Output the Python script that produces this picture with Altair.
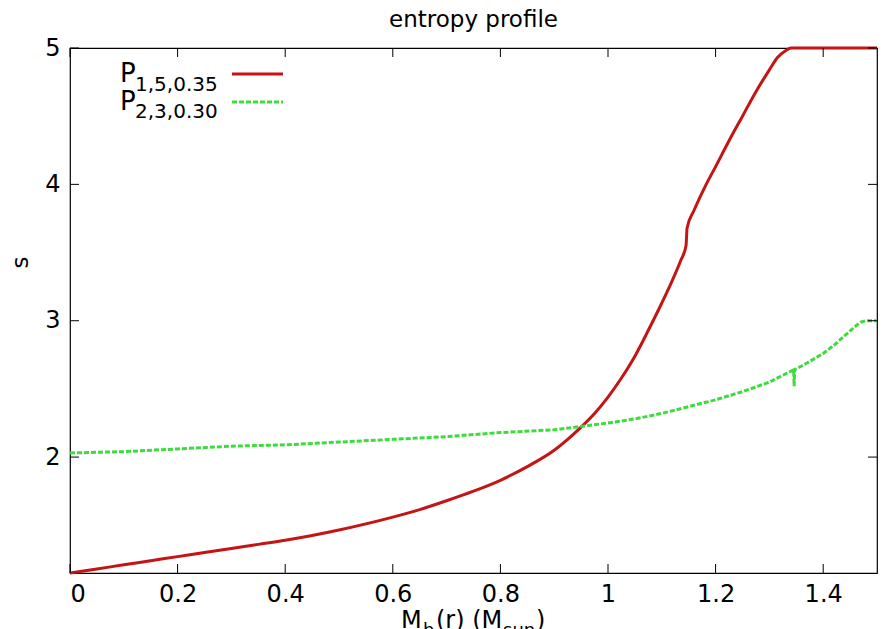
import altair as alt
import pandas as pd

# Entropy profiles s(M_b) for two progenitor models
red_mass = [0.0, 0.05, 0.1, 0.15, 0.2, 0.25, 0.3, 0.35, 0.4, 0.45, 0.5, 0.55, 0.6,
            0.65, 0.7, 0.75, 0.8, 0.85, 0.9, 0.925, 0.95, 0.975, 1.0, 1.025, 1.05,
            1.075, 1.1, 1.12, 1.135, 1.145, 1.147, 1.16, 1.18, 1.2, 1.225, 1.25,
            1.275, 1.3, 1.315, 1.33, 1.34, 1.5]
red_s = [1.15, 1.18, 1.21, 1.24, 1.27, 1.30, 1.33, 1.36, 1.39, 1.425, 1.465, 1.51, 1.56,
         1.615, 1.68, 1.75, 1.83, 1.93, 2.05, 2.13, 2.22, 2.32, 2.44, 2.58, 2.74,
         2.93, 3.13, 3.30, 3.44, 3.55, 3.68, 3.81, 3.98, 4.13, 4.32, 4.50,
         4.68, 4.84, 4.93, 4.98, 5.0, 5.0]

green_mass = [0.0, 0.1, 0.2, 0.3, 0.4, 0.5, 0.6, 0.7, 0.8, 0.9, 1.0, 1.05, 1.1, 1.15,
              1.2, 1.25, 1.3, 1.32, 1.345, 1.346, 1.347, 1.37, 1.4, 1.42, 1.44, 1.46,
              1.47, 1.48, 1.5]
green_s = [2.03, 2.04, 2.06, 2.08, 2.09, 2.11, 2.13, 2.15, 2.18, 2.20, 2.25, 2.28, 2.32, 2.37,
           2.42, 2.48, 2.55, 2.59, 2.64, 2.52, 2.64, 2.69, 2.76, 2.82, 2.89, 2.96,
           2.99, 3.0, 3.0]

x_ticks = [0, 0.2, 0.4, 0.6, 0.8, 1, 1.2, 1.4]
y_ticks = [2, 3, 4, 5]

W, H = 807, 525
TICK = 9
FONT = "DejaVu Sans"
RED = "#c41414"
GREEN = "#3ddc3d"

x_scale = alt.Scale(domain=[0, 1.5], nice=False, zero=False)
y_scale = alt.Scale(domain=[1.15, 5], nice=False, zero=False)

x_axis = alt.Axis(values=x_ticks, title=None, domain=False, ticks=False, grid=False,
                  labelFont=FONT, labelFontSize=24, labelPadding=9, labelColor="black",
                  format="~g")
y_axis = alt.Axis(values=y_ticks, title=None, domain=False, ticks=False, grid=False,
                  labelFont=FONT, labelFontSize=24, labelPadding=10, labelColor="black",
                  format="~g")


def X(field):
    return alt.X(f"{field}:Q", scale=x_scale, axis=x_axis)


def Y(field):
    return alt.Y(f"{field}:Q", scale=y_scale, axis=y_axis)


red_df = pd.DataFrame({"x": red_mass, "y": red_s})
green_df = pd.DataFrame({"x": green_mass, "y": green_s})
xt_df = pd.DataFrame({"x": x_ticks})
yt_df = pd.DataFrame({"y": y_ticks})

red_line = alt.Chart(red_df).mark_line(
    color=RED, strokeWidth=3, interpolate="monotone", clip=False).encode(x=X("x"), y=Y("y"))
green_line = alt.Chart(green_df).mark_line(
    color=GREEN, strokeWidth=3, strokeDash=[5, 2], clip=False).encode(x=X("x"), y=Y("y"))

# inward ticks on all four sides
tick_bottom = alt.Chart(xt_df).mark_rule(color="black", strokeWidth=1).encode(
    x=X("x"), y=alt.value(H), y2=alt.value(H - TICK))
tick_top = alt.Chart(xt_df).mark_rule(color="black", strokeWidth=1).encode(
    x=X("x"), y=alt.value(0), y2=alt.value(TICK))
tick_left = alt.Chart(yt_df).mark_rule(color="black", strokeWidth=1).encode(
    y=Y("y"), x=alt.value(0), x2=alt.value(TICK))
tick_right = alt.Chart(yt_df).mark_rule(color="black", strokeWidth=1).encode(
    y=Y("y"), x=alt.value(W), x2=alt.value(W - TICK))


def label(text, x, y, size, angle=0, align="left"):
    return alt.Chart(pd.DataFrame({"t": [text]})).mark_text(
        font=FONT, fontSize=size, align=align, baseline="alphabetic", angle=angle,
        color="black").encode(text="t:N", x=alt.value(x), y=alt.value(y))


# legend: model names with subscripts and line samples
legend = [
    label("P", 50, 34, 26),
    label("1,5,0.35", 65, 43, 20),
    label("P", 50, 62, 26),
    label("2,3,0.30", 65, 70, 20),
    alt.Chart(xt_df.head(1)).mark_rule(color=RED, strokeWidth=3).encode(
        x=alt.value(162), x2=alt.value(213), y=alt.value(26)),
    alt.Chart(xt_df.head(1)).mark_rule(color=GREEN, strokeWidth=3, strokeDash=[5, 2]).encode(
        x=alt.value(162), x2=alt.value(213), y=alt.value(54)),
]

# titles
titles = [
    label("entropy profile", W / 2, -21, 23, align="center"),
    label("s", -42, H / 2 - 48, 23, angle=270, align="center"),
    label("M", 331, 580, 24),
    label("b", 353, 588, 18),
    label("(r) (M", 366, 580, 24),
    label("sun", 433, 588, 18),
    label(")", 466, 580, 24),
]

chart = alt.layer(
    red_line, green_line, tick_bottom, tick_top, tick_left, tick_right, *legend, *titles
).properties(
    width=W, height=H,
    padding={"left": 70, "top": 48, "right": 12, "bottom": 56},
    autosize=alt.AutoSizeParams(type="none"),
    background="white",
).configure_view(stroke="black", strokeWidth=1.2)

chart.save("out.html", embed_options={"renderer": "svg", "actions": False})
